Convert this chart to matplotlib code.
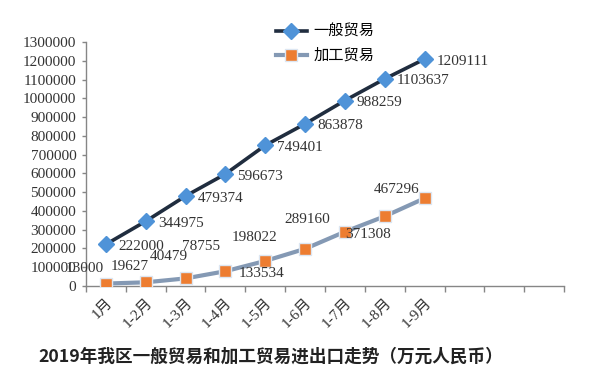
import matplotlib
matplotlib.use("Agg")
import matplotlib.pyplot as plt

categories = ["1月", "1-2月", "1-3月", "1-4月", "1-5月", "1-6月", "1-7月", "1-8月", "1-9月", "", "", ""]
general = [222000, 344975, 479374, 596673, 749401, 863878, 988259, 1103637, 1209111]
processing = [13000, 19627, 40479, 78755, 133534, 198022, 289160, 371308, 467296]
series_names = ["一般贸易", "加工贸易"]
title = "2019年我区一般贸易和加工贸易进出口走势（万元人民币）"

# label offsets (pixels) for processing-trade data labels, as placed in the reference
proc_offsets = [(-21, 15), (-16, 16), (-17, 22), (-24, 25), (-4, -13), (-51, 11), (-38, 12), (-17, -18), (-28, 9)]

serif = ["Liberation Serif", "Noto Sans CJK SC"]
sans = ["Noto Sans CJK SC", "DejaVu Sans"]

fig = plt.figure(figsize=(6.0, 3.76), dpi=100)
ax = fig.add_axes([86 / 600, 1 - 286 / 376, (564 - 86) / 600, (286 - 42) / 376])

x1 = list(range(len(general)))
x2 = list(range(len(processing)))

ax.plot(x1, general, color="#202D3F", lw=2.6, marker="D", markersize=8,
        markerfacecolor="#4F93D8", markeredgecolor="#4F93D8", label=series_names[0], zorder=3)
ax.plot(x2, processing, color="#8499B4", lw=3, marker="s", markersize=9,
        markerfacecolor="#ED7D31", markeredgecolor="#DCE6F2", markeredgewidth=1, label=series_names[1], zorder=3)

for xi, v in zip(x1, general):
    ax.annotate(str(v), (xi, v), xytext=(12, -2), textcoords="offset pixels",
                ha="left", va="center", fontsize=11, family=serif, color="#333333")
for xi, v, off in zip(x2, processing, proc_offsets):
    ax.annotate(str(v), (xi, v), xytext=off, textcoords="offset pixels",
                ha="center", va="center", fontsize=11, family=serif, color="#333333")

ax.set_xlim(-0.5, len(categories) - 0.5)
ax.set_ylim(0, 1300000)
ax.set_yticks(range(0, 1300001, 100000))
ax.set_yticklabels([str(v) for v in range(0, 1300001, 100000)], family=serif, fontsize=11, color="#333333")

ax.set_xticks([i - 0.5 for i in range(len(categories) + 1)], minor=False)
ax.set_xticklabels([])
ax.set_xticks(range(len(categories)), minor=True)
ax.set_xticklabels(categories, minor=True, rotation=45, ha="right", rotation_mode="anchor",
                   family=serif, fontsize=11, color="#333333")
ax.tick_params(axis="x", which="minor", length=0, pad=7)
ax.tick_params(axis="x", which="major", length=4, width=1, color="#868686", direction="out")
ax.tick_params(axis="y", length=3, width=1, color="#868686", direction="out", pad=4)

for s in ["top", "right"]:
    ax.spines[s].set_visible(False)
for s in ["left", "bottom"]:
    ax.spines[s].set_color("#868686")
    ax.spines[s].set_linewidth(1)

fig.legend(loc="upper left", bbox_to_anchor=(276 / 600, 1 - 23 / 376), frameon=False,
           prop={"family": sans, "size": 11}, handlelength=2.0, handletextpad=0.45,
           labelspacing=0.45, borderpad=0, borderaxespad=0)

fig.text(271 / 600, 1 - 357 / 376, title, ha="center", va="center", fontsize=12.7,
         family=sans, color="#222222", fontweight="bold")

fig.savefig("out.png", dpi=100)
